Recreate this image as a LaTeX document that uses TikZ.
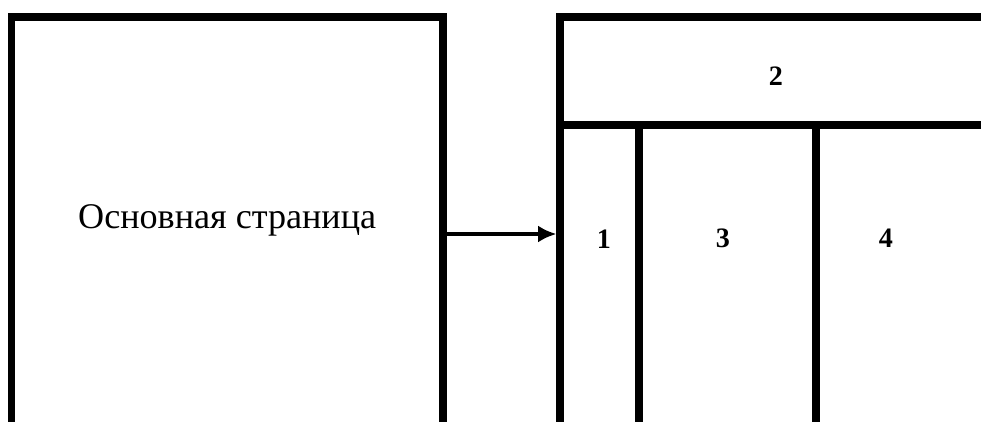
\documentclass[tikz,border=0pt]{standalone}
\usepackage{fontspec}
\setmainfont{Liberation Serif}
\usetikzlibrary{arrows.meta}

\begin{document}
\begin{tikzpicture}[>={Latex[length=13pt,width=12pt]},line width=5pt,
  box/.style={draw,rectangle,minimum height=10.85cm,inner sep=0pt},
  num/.style={font=\fontsize{20}{24}\selectfont\bfseries}]
\useasboundingbox (0,0) rectangle (24.525,10.525);
\clip (0,0) rectangle (24.525,10.525);
\node[box,minimum width=10.7875cm] (main) at (5.68125,4.675) {};
\node[box,minimum width=11.5cm] (layout) at (19.75,4.675) {};
\node at (5.68,4.825) [anchor=base,font=\fontsize{25.7}{30}\selectfont] (title) {Основная страница};
\draw[->,line width=3.5pt] (main.east)--(layout.west);
\draw (14,7.4)--(25.5,7.4);
\draw (15.975,7.4)--(15.975,-0.75);
\draw (20.4,7.4)--(20.4,-0.75);
\node at (19.4,8.625) [num] (header) {2};
\node at (15.1,4.55) [num] (menu) {1};
\node at (18.075,4.575) [num] (content) {3};
\node at (22.15,4.575) [num] (side) {4};
\end{tikzpicture}
\end{document}
